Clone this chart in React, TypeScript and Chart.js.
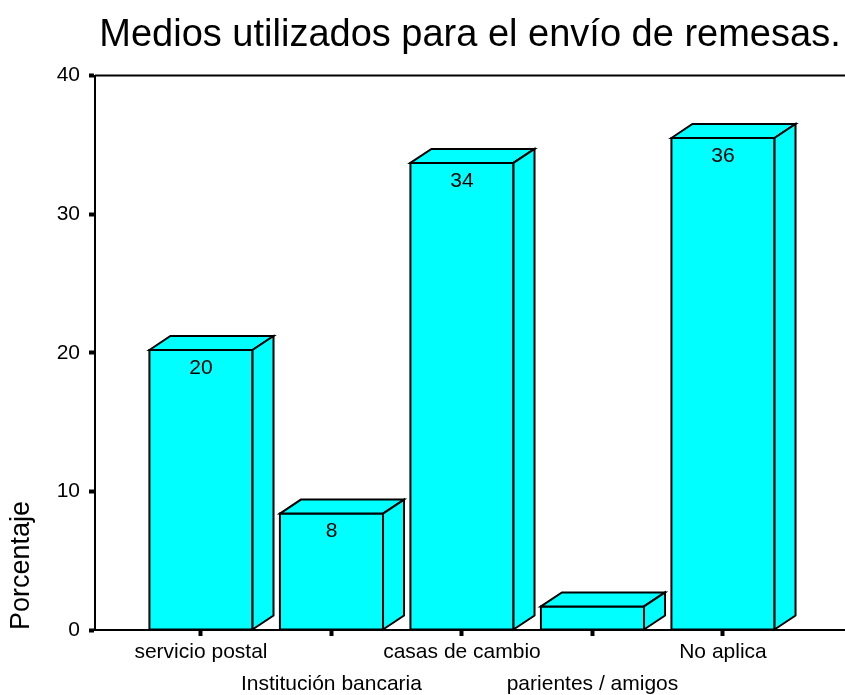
import React, { useEffect, useRef } from 'react';
import { Chart, registerables } from 'chart.js';

Chart.register(...registerables);

const TITLE = 'Medios utilizados para el envío de remesas.';
const Y_TITLE = 'Porcentaje';
const categories = ['servicio postal', 'Institución bancaria', 'casas de cambio', 'parientes / amigos', 'No aplica'];
const positions = [1, 2, 3, 4, 5];
const percentages = [20.2, 8.4, 33.7, 1.7, 35.5];
const yTicks = [0, 10, 20, 30, 40];

const FONT = "'Liberation Sans', Arial, Helvetica, sans-serif";
const BAR_COLOR = '#00FFFF';
const DEPTH_X = 21;
const DEPTH_Y = 14;

const bars3d = {
  id: 'bars3d',
  afterDatasetsDraw(chart: any) {
    const ctx = chart.ctx as CanvasRenderingContext2D;
    const meta = chart.getDatasetMeta(0);
    ctx.save();
    ctx.lineWidth = 2;
    ctx.strokeStyle = '#000';
    ctx.lineJoin = 'miter';
    const poly = (pts: number[][]) => {
      ctx.beginPath();
      ctx.moveTo(pts[0][0], pts[0][1]);
      for (let k = 1; k < pts.length; k++) ctx.lineTo(pts[k][0], pts[k][1]);
      ctx.closePath();
      ctx.fillStyle = BAR_COLOR;
      ctx.fill();
      ctx.stroke();
    };
    meta.data.forEach((el: any, i: number) => {
      const { x, y, base, width } = el.getProps(['x', 'y', 'base', 'width'], true);
      const l = x - width / 2;
      const r = x + width / 2;
      poly([[l, y], [r, y], [r, base], [l, base]]);
      poly([[l, y], [l + DEPTH_X, y - DEPTH_Y], [r + DEPTH_X, y - DEPTH_Y], [r, y]]);
      poly([[r, y], [r + DEPTH_X, y - DEPTH_Y], [r + DEPTH_X, base - DEPTH_Y], [r, base]]);
      if (base - y > 30) {
        ctx.fillStyle = '#000';
        ctx.font = `21px ${FONT}`;
        ctx.textAlign = 'center';
        ctx.textBaseline = 'middle';
        ctx.fillText(String(Math.round(percentages[i])), x, y + 18);
      }
    });
    ctx.restore();
  },
};

const topBorder = {
  id: 'topBorder',
  afterDraw(chart: any) {
    const { ctx, chartArea } = chart;
    ctx.save();
    ctx.strokeStyle = '#000';
    ctx.lineWidth = 2;
    ctx.beginPath();
    ctx.moveTo(chartArea.left, chartArea.top);
    ctx.lineTo(chartArea.right, chartArea.top);
    ctx.stroke();
    ctx.restore();
  },
};

export default function App() {
  const ref = useRef<HTMLCanvasElement>(null);

  useEffect(() => {
    if (!ref.current) return;
    Chart.defaults.font.family = FONT;
    Chart.defaults.color = '#000';
    const tickGrid = {
      drawOnChartArea: false,
      drawTicks: true,
      tickLength: 6,
      tickWidth: 4,
      tickColor: '#000',
      offset: false,
    };
    const chart = new Chart(ref.current, {
      type: 'bar',
      data: {
        datasets: [
          {
            data: positions.map((p, i) => ({ x: p, y: percentages[i] })),
            backgroundColor: 'rgba(0,0,0,0)',
            borderWidth: 0,
            barPercentage: 0.79,
            categoryPercentage: 1,
          },
        ],
      },
      options: {
        animation: false,
        responsive: false,
        devicePixelRatio: 1,
        layout: { padding: 0 },
        plugins: {
          legend: { display: false },
          tooltip: { enabled: false },
          title: {
            display: true,
            text: TITLE,
            fullSize: false,
            color: '#000',
            font: { size: 38, weight: 'normal', family: FONT, lineHeight: 1.2 },
            padding: { top: 13, bottom: 17 },
          },
        },
        scales: {
          x: {
            type: 'linear',
            min: 0.188,
            max: 5.935,
            offset: false,
            afterBuildTicks: (axis: any) => {
              axis.ticks = positions.map((v) => ({ value: v }));
            },
            afterFit: (s: any) => {
              s.height = 65;
            },
            ticks: {
              autoSkip: false,
              maxRotation: 0,
              minRotation: 0,
              padding: 0,
              color: '#000',
              font: { size: 21, lineHeight: 1.524 },
              callback: (_v: any, i: number) => (i % 2 === 0 ? categories[i] : ['', categories[i]]),
            },
            grid: tickGrid,
            border: { display: true, color: '#000', width: 2 },
          },
          y: {
            min: 0,
            max: 40,
            afterBuildTicks: (axis: any) => {
              axis.ticks = yTicks.map((v) => ({ value: v }));
            },
            afterFit: (s: any) => {
              s.width = 95;
            },
            ticks: { padding: 9, color: '#000', font: { size: 21 } },
            grid: tickGrid,
            border: { display: true, color: '#000', width: 2 },
            title: {
              display: true,
              text: Y_TITLE,
              align: 'start',
              color: '#000',
              font: { size: 27 },
              padding: { top: 5, bottom: 0 },
            },
          },
        },
      },
      plugins: [bars3d, topBorder],
    } as any);
    return () => chart.destroy();
  }, []);

  return (
    <div style={{ position: 'fixed', left: 0, top: 0, width: 845, height: 695, background: '#fff' }}>
      <canvas ref={ref} width={845} height={695} style={{ display: 'block', width: 845, height: 695 }} />
    </div>
  );
}
